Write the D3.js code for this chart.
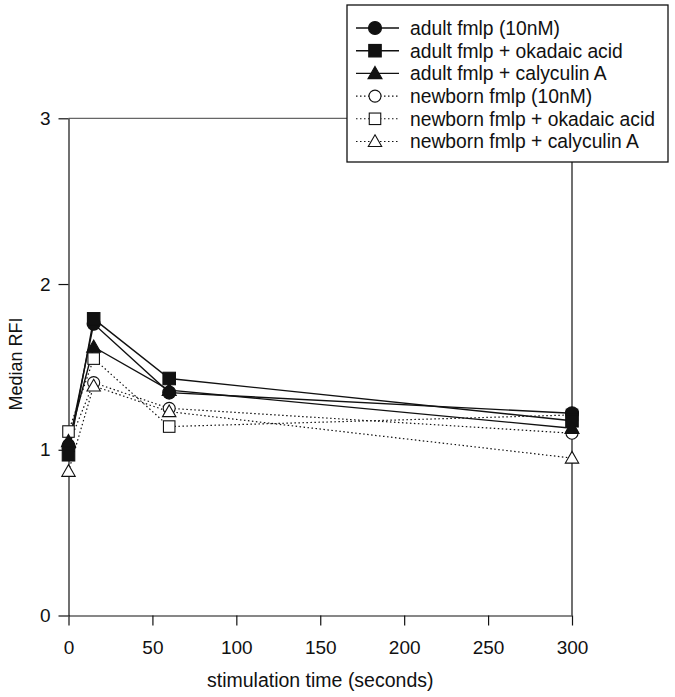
<!DOCTYPE html>
<html>
<head>
<meta charset="utf-8">
<script src="https://cdn.jsdelivr.net/npm/d3@7"></script>
<style>
  body { margin: 0; background: #fff; }
  svg { display: block; font-family: "Liberation Sans", Arial, sans-serif; }
  .axis text { font-family: "Liberation Sans", Arial, sans-serif; font-size: 19px; fill: #111; }
  .axis path, .axis line { stroke: #111; stroke-width: 1.2px; }
</style>
</head>
<body>
<svg width="675" height="697"></svg>
<script>
// stimulation times (seconds)
var times = [0, 15, 60, 300];

// median RFI
var adultFmlp = [1.02, 1.76, 1.345, 1.22];
var adultOkadaic = [0.97, 1.79, 1.43, 1.175];
var adultCalyculin = [1.05, 1.62, 1.36, 1.13];
var newbornFmlp = [1.03, 1.405, 1.25, 1.10];
var newbornOkadaic = [1.11, 1.55, 1.14, 1.21];
var newbornCalyculin = [0.87, 1.385, 1.23, 0.95];

var seriesNames = [
	'adult fmlp (10nM)',
	'adult fmlp + okadaic acid',
	'adult fmlp + calyculin A',
	'newborn fmlp (10nM)',
	'newborn fmlp + okadaic acid',
	'newborn fmlp + calyculin A'
];

var xTicks = [0, 50, 100, 150, 200, 250, 300];
var yTicks = [0, 1, 2, 3];

var series = [
	{name: seriesNames[0], values: adultFmlp, shape: 'circle', filled: true},
	{name: seriesNames[1], values: adultOkadaic, shape: 'square', filled: true},
	{name: seriesNames[2], values: adultCalyculin, shape: 'triangle', filled: true},
	{name: seriesNames[3], values: newbornFmlp, shape: 'circle', filled: false},
	{name: seriesNames[4], values: newbornOkadaic, shape: 'square', filled: false},
	{name: seriesNames[5], values: newbornCalyculin, shape: 'triangle', filled: false}
];

var svg = d3.select('svg');

var x = d3.scaleLinear().domain([0, 300]).range([68.5, 572]);
var y = d3.scaleLinear().domain([0, 3]).range([615.5, 118.3]);

// frame: top and right
svg.append('line')
	.attr('x1', x(0)).attr('x2', x(300))
	.attr('y1', y(3)).attr('y2', y(3))
	.attr('stroke', '#666').attr('stroke-width', 1.2);
svg.append('line')
	.attr('x1', x(300)).attr('x2', x(300))
	.attr('y1', y(3)).attr('y2', y(0))
	.attr('stroke', '#111').attr('stroke-width', 1.2);

// axes
var xAxis = svg.append('g')
	.attr('class', 'axis')
	.attr('transform', 'translate(0,' + y(0) + ')')
	.call(d3.axisBottom(x).tickValues(xTicks).tickFormat(d3.format('d')).tickSize(10).tickSizeOuter(0).tickPadding(15));
xAxis.selectAll('text').attr('dy', '0.71em');

var yAxis = svg.append('g')
	.attr('class', 'axis')
	.attr('transform', 'translate(' + x(0) + ',0)')
	.call(d3.axisLeft(y).tickValues(yTicks).tickFormat(d3.format('d')).tickSize(10).tickSizeOuter(0).tickPadding(8));

// axis titles
svg.append('text')
	.attr('x', (x(0) + x(300)) / 2)
	.attr('y', 687)
	.attr('text-anchor', 'middle')
	.style('font-size', '19.5px')
	.style('fill', '#111')
	.text('stimulation time (seconds)');

svg.append('text')
	.attr('transform', 'translate(22,' + 364 + ') rotate(-90)')
	.attr('text-anchor', 'middle')
	.style('font-size', '18px')
	.style('fill', '#111')
	.text('Median RFI');

// marker drawing
function drawMarker(g, shape, filled, cx, cy) {
	var fill = filled ? '#111' : '#fff';
	var m;
	if(shape === 'circle') {
		m = g.append('circle').attr('cx', cx).attr('cy', cy).attr('r', filled ? 6.5 : 6);
	}
	else if(shape === 'square') {
		var s = filled ? 12.5 : 11.5;
		m = g.append('rect').attr('x', cx - s / 2).attr('y', cy - s / 2).attr('width', s).attr('height', s);
	}
	else {
		var h = filled ? 7 : 6.7;
		m = g.append('path').attr('d', 'M' + cx + ',' + (cy - h) + 'L' + (cx + h) + ',' + (cy + h * 0.75) + 'L' + (cx - h) + ',' + (cy + h * 0.75) + 'Z');
	}
	m.attr('fill', fill).attr('stroke', '#111').attr('stroke-width', 1.1);
}

var line = d3.line()
	.x(function(d) { return x(d[0]); })
	.y(function(d) { return y(d[1]); });

// newborn (dotted) first, adult (solid) on top
var order = [3, 4, 5, 0, 1, 2];
order.forEach(function(i) {
	var s = series[i];
	var pts = times.map(function(t, j) { return [t, s.values[j]]; });
	svg.append('path')
		.attr('d', line(pts))
		.attr('fill', 'none')
		.attr('stroke', '#111')
		.attr('stroke-width', s.filled ? 1.4 : 1.2)
		.attr('stroke-dasharray', s.filled ? null : '1.5,2.5');
});
order.forEach(function(i) {
	var s = series[i];
	var g = svg.append('g');
	times.forEach(function(t, j) {
		drawMarker(g, s.shape, s.filled, x(t), y(s.values[j]));
	});
});

// legend
var legend = svg.append('g');
legend.append('rect')
	.attr('x', 347).attr('y', 5)
	.attr('width', 321).attr('height', 157)
	.attr('fill', '#fff')
	.attr('stroke', '#111')
	.attr('stroke-width', 1.3);

series.forEach(function(s, i) {
	var cy = 28 + i * 22.7;
	legend.append('line')
		.attr('x1', 356).attr('x2', 399)
		.attr('y1', cy).attr('y2', cy)
		.attr('stroke', '#111')
		.attr('stroke-width', s.filled ? 1.4 : 1.1)
		.attr('stroke-dasharray', s.filled ? null : '1.5,2.5');
	drawMarker(legend, s.shape, s.filled, 375, cy);
	legend.append('text')
		.attr('x', 410)
		.attr('y', cy + 6.8)
		.style('font-size', '19.3px')
		.style('fill', '#111')
		.text(s.name);
});
</script>
</body>
</html>
